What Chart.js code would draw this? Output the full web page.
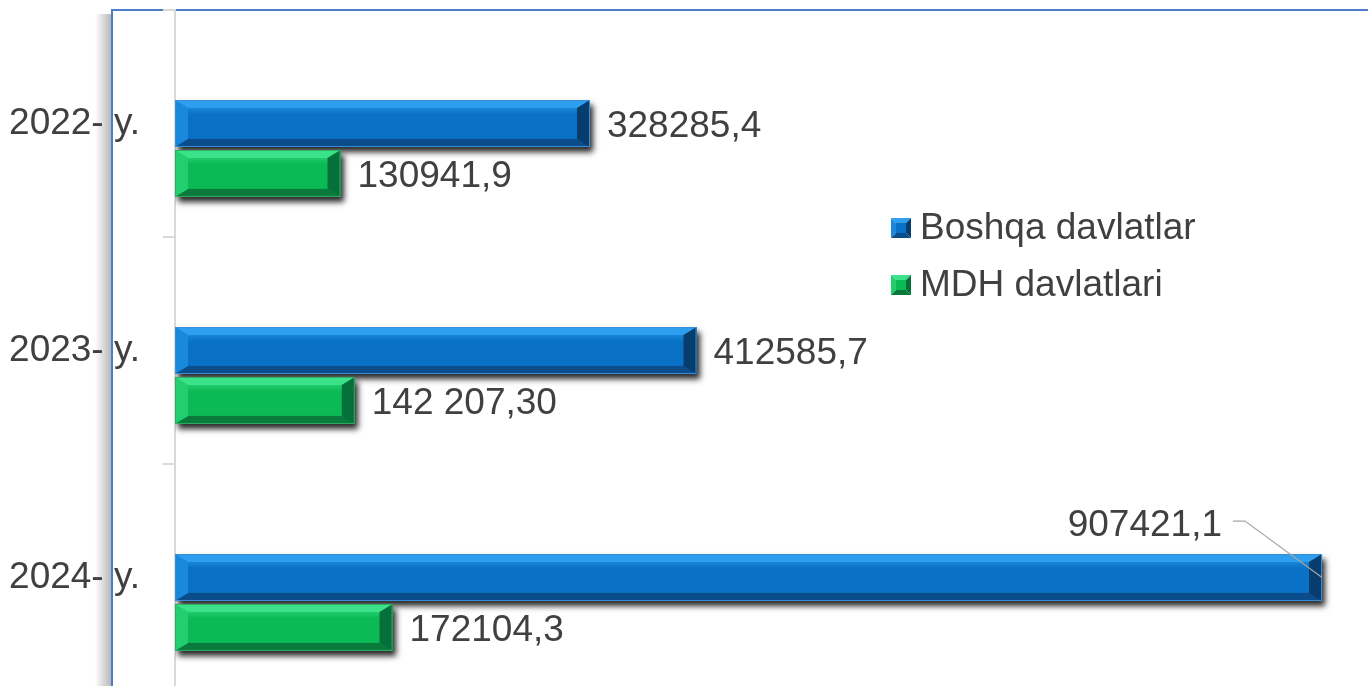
<!DOCTYPE html>
<html>
<head>
<meta charset="utf-8">
<script src="https://cdn.jsdelivr.net/npm/chart.js@4.4.1/dist/chart.umd.min.js"></script>
<style>
  html, body { margin: 0; padding: 0; overflow: hidden; background: #fff; }
  #wrap { width: 1368px; height: 691px; }
</style>
</head>
<body>
<div id="wrap"><canvas id="chart" width="1368" height="691"></canvas></div>
<script>
// values
const categories = ['2022- y.', '2023- y.', '2024- y.']
const seriesNames = ['Boshqa davlatlar', 'MDH davlatlari']
const boshqaValues = [328285.4, 412585.7, 907421.1]
const mdhValues = [130941.9, 142207.30, 172104.3]
const boshqaLabels = ['328285,4', '412585,7', '907421,1']
const mdhLabels = ['130941,9', '142 207,30', '172104,3']
const emptySlot = [null, null, null]

const FONT = '"Liberation Sans", Arial, sans-serif'
const TEXT = '#404040'

// bevel palettes: face, top, bottom, left, right, edge
const BLUE = { face: '#0A72C6', top: '#2E9FEE', bottom: '#0B4C8A', left: '#1A88DC', right: '#063D6E', edge: '#3b8fd6' }
const GREEN = { face: '#0BBA55', top: '#3CE28A', bottom: '#0A7A3C', left: '#22CE6E', right: '#06703A', edge: '#2fae63' }
const palettes = [null, BLUE, GREEN]
const valueLabels = [null, boshqaLabels, mdhLabels]

function poly(ctx, pts, color) {
  ctx.beginPath()
  ctx.moveTo(pts[0][0], pts[0][1])
  for (let i = 1; i < pts.length; i++) ctx.lineTo(pts[i][0], pts[i][1])
  ctx.closePath()
  ctx.fillStyle = color
  ctx.fill()
}

function drawBevel(ctx, l, t, r, b, pal, bx, by) {
  const g = ctx.createLinearGradient(0, t, 0, b)
  g.addColorStop(0, pal.top)
  g.addColorStop(0.3, pal.face)
  g.addColorStop(0.8, pal.face)
  g.addColorStop(1, pal.bottom)
  ctx.fillStyle = g
  ctx.fillRect(l, t, r - l, b - t)
  poly(ctx, [[l, t], [r, t], [r - bx, t + by], [l + bx, t + by]], pal.top)
  poly(ctx, [[l, b], [r, b], [r - bx, b - by], [l + bx, b - by]], pal.bottom)
  poly(ctx, [[l, t], [l + bx, t + by], [l + bx, b - by], [l, b]], pal.left)
  poly(ctx, [[r, t], [r - bx, t + by], [r - bx, b - by], [r, b]], pal.right)
  ctx.strokeStyle = pal.edge
  ctx.lineWidth = 1
  ctx.strokeRect(l + 0.5, t + 0.5, r - l - 1, b - t - 1)
}

const framePlugin = {
  id: 'frame',
  beforeDraw(chart) {
    const { ctx, chartArea } = chart
    ctx.save()
    // shadow on the left of the frame
    const sg = ctx.createLinearGradient(95, 0, 111, 0)
    sg.addColorStop(0, 'rgba(0,0,0,0)')
    sg.addColorStop(1, 'rgba(0,0,0,0.28)')
    ctx.fillStyle = sg
    ctx.fillRect(95, chartArea.top + 4, 16, chart.height)
    // frame lines
    ctx.strokeStyle = '#4A7EC8'
    ctx.lineWidth = 2
    ctx.beginPath()
    ctx.moveTo(112, chart.height)
    ctx.lineTo(112, chartArea.top)
    ctx.lineTo(chart.width, chartArea.top)
    ctx.stroke()
    ctx.restore()
  },
  beforeDatasetsDraw(chart) {
    const ctx = chart.ctx
    ctx.save()
    ctx.shadowColor = 'rgba(0,0,0,0.85)'
    ctx.shadowBlur = 6
    ctx.shadowOffsetX = 3
    ctx.shadowOffsetY = 5
  },
  afterDatasetsDraw(chart) {
    const ctx = chart.ctx
    ctx.restore()
    ctx.save()
    chart.data.datasets.forEach((ds, di) => {
      const pal = palettes[di]
      if (!pal) return
      chart.getDatasetMeta(di).data.forEach((bar, i) => {
        const p = bar.getProps(['x', 'y', 'base', 'height'], true)
        const l = Math.min(p.x, p.base), r = Math.max(p.x, p.base)
        const t = p.y - p.height / 2, b = p.y + p.height / 2
        drawBevel(ctx, l, t, r, b, pal, 13, 8)

        // value labels
        const txt = valueLabels[di][i]
        ctx.font = '37px ' + FONT
        ctx.fillStyle = TEXT
        const w = ctx.measureText(txt).width
        if (r + 17 + w > chart.chartArea.right) {
          // not enough room: put it above with a leader line
          const tr = r - 100, ty = t - 28
          ctx.textAlign = 'right'
          ctx.textBaseline = 'middle'
          ctx.fillText(txt, tr, ty)
          ctx.strokeStyle = '#A6A6A6'
          ctx.lineWidth = 1.2
          ctx.beginPath()
          ctx.moveTo(tr + 11, ty - 5)
          ctx.lineTo(tr + 23, ty - 5)
          ctx.lineTo(r, p.y)
          ctx.stroke()
        } else {
          ctx.textAlign = 'left'
          ctx.textBaseline = 'middle'
          ctx.fillText(txt, r + 17, p.y + 3)
        }
      })
    })
    ctx.restore()
  },
  afterDraw(chart) {
    // legend inside the plot
    const ctx = chart.ctx
    ctx.save()
    const rows = [[1, 228], [2, 285]]
    rows.forEach(([di, cy]) => {
      const pal = palettes[di]
      const x0 = 891, s = 20, y0 = cy - s / 2
      const c = [x0 + s / 2, cy]
      poly(ctx, [[x0, y0], [x0 + s, y0], c], pal.top)
      poly(ctx, [[x0, y0], c, [x0, y0 + s]], pal.left)
      poly(ctx, [[x0 + s, y0], [x0 + s, y0 + s], c], pal.right)
      poly(ctx, [[x0, y0 + s], [x0 + s, y0 + s], c], pal.bottom)
      ctx.fillStyle = pal.face
      ctx.fillRect(x0 + 5, y0 + 5, s - 10, s - 10)
      ctx.font = '37px ' + FONT
      ctx.fillStyle = TEXT
      ctx.textAlign = 'left'
      ctx.textBaseline = 'middle'
      ctx.fillText(chart.data.datasets[di].label, 920, cy + 1)
    })
    ctx.restore()
  }
}

new Chart(document.getElementById('chart'), {
  type: 'bar',
  data: {
    labels: categories,
    datasets: [
      { label: '', data: emptySlot, backgroundColor: 'transparent' },
      { label: seriesNames[0], data: boshqaValues, backgroundColor: BLUE.face },
      { label: seriesNames[1], data: mdhValues, backgroundColor: GREEN.face }
    ]
  },
  options: {
    indexAxis: 'y',
    responsive: false,
    devicePixelRatio: 1,
    animation: false,
    categoryPercentage: 0.66,
    barPercentage: 0.94,
    layout: { padding: { top: 10, right: 0, bottom: 0, left: 0 } },
    plugins: { legend: { display: false }, tooltip: { enabled: false } },
    scales: {
      x: { display: false, min: 0, max: 943800 },
      y: {
        grid: { drawOnChartArea: false, drawTicks: true, tickLength: 12, color: '#D9D9D9', lineWidth: 2 },
        border: { color: '#D9D9D9', width: 2 },
        ticks: { font: { family: FONT, size: 37 }, color: TEXT, padding: 23 },
        afterFit(s) { s.width = 175; s.paddingTop = 0; s.paddingBottom = 0 }
      }
    }
  },
  plugins: [framePlugin]
})
</script>
</body>
</html>
